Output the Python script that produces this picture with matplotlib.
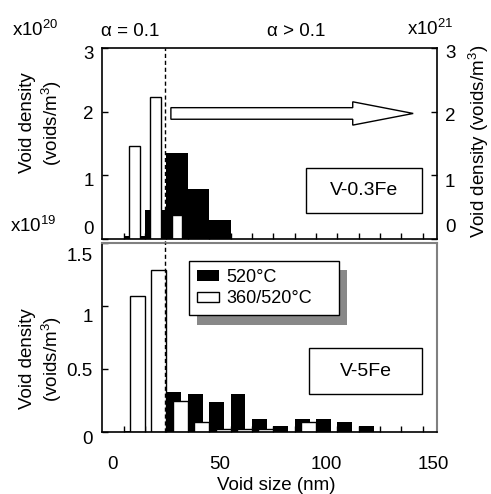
import matplotlib
matplotlib.use('Agg')
import numpy as np
import matplotlib.pyplot as plt
import matplotlib.transforms as mtransforms
from matplotlib.patches import FancyArrow, Rectangle

plt.rcParams['font.family'] = ['Liberation Sans', 'DejaVu Sans']
plt.rcParams['mathtext.fontset'] = 'custom'
plt.rcParams['mathtext.rm'] = 'Liberation Sans'
plt.rcParams['mathtext.it'] = 'Liberation Sans:italic'
plt.rcParams['font.size'] = 13.5

# void size bins (nm) - centre of each 10 nm bin
top_bins = [10, 20, 30, 40, 50]
top_520 = [0.04, 0.46, 1.36, 0.78, 0.30]
top_bins_360 = [10, 20, 30]
top_360 = [1.46, 2.23, 0.38]

bot_bins = [10, 20, 30, 40, 50, 60, 70, 80, 90, 100, 110, 120]
bot_520 = [0.01, 0.0, 0.32, 0.30, 0.24, 0.30, 0.105, 0.05, 0.105, 0.105, 0.085, 0.05]
bot_360 = [1.08, 1.29, 0.25, 0.08, 0.03, 0.03, 0.03, 0.0, 0.085, 0.0, 0.0, 0.0]

alpha_limit = 24.2          # dashed separator (nm)
top_yticks = [0, 1, 2, 3]
bot_yticks = [0, 0.5, 1, 1.5]
x_ticks = [0, 50, 100, 150]

W, H = 491, 494
fig = plt.figure(figsize=(W / 100, H / 100), dpi=100)

def fx(px):
    return px / W

def fy(py):
    return 1 - py / H

ax1 = fig.add_axes([fx(102.3), fy(239), fx(436.7) - fx(102.3), fy(48.3) - fy(239)])
ax2 = fig.add_axes([fx(102.3), fy(432.3), fx(436.7) - fx(102.3), fy(243.3) - fy(432.3)])

# top panel (V-0.3Fe)
ax1.bar(top_bins, top_520, width=10, color='black', edgecolor='none', zorder=1)
ax1.bar(top_bins_360, top_360, width=5, color='white', edgecolor='black', linewidth=1, zorder=1.5)

# bottom panel (V-5Fe)
bb = np.array(bot_bins)
ax2.bar(bb - 1.5, bot_520, width=7, color='black', edgecolor='none', zorder=1, label='520°C')
ax2.bar(bb + 1.5, bot_360, width=7, color='white', edgecolor='black', linewidth=1, zorder=1.5,
        label='360/520°C')

for ax in (ax1, ax2):
    ax.set_xlim(-5, 151.5)
    ax.set_xticks(x_ticks)
    ax.set_xticks(np.arange(5, 150, 10), minor=True)
    ax.tick_params(axis='x', which='major', length=0, pad=17, labelsize=13.5)
    ax.tick_params(axis='x', which='minor', direction='in', length=4, width=1)
    ax.tick_params(axis='y', which='major', direction='in', length=4, width=1, pad=7,
                   labelsize=13.5)
    ax.set_axisbelow(True)
    ax.axvline(alpha_limit, color='black', lw=1, ls=(0, (3, 2)), zorder=3,
               ymin=-0.03 if ax is ax1 else 0, clip_on=False)
    for s in ax.spines.values():
        s.set_linewidth(1.2)

ax1.set_ylim(0, 3)
ax1.set_yticks(top_yticks)
ax1.set_yticklabels([str(v) for v in top_yticks])
ax1.tick_params(axis='x', labelbottom=False)
ax1.tick_params(axis='y', right=True, labelright=True)
ax1.tick_params(axis='y', which='major', pad=6)

ax2.set_ylim(0, 1.5)
ax2.set_yticks(bot_yticks)
ax2.set_yticklabels(['0', '0.5', '1', '1.5'])
ax2.set_xticklabels([str(v) for v in x_ticks])
for side in ('top', 'right'):
    ax2.spines[side].set_color('#808080')
    ax2.spines[side].set_linewidth(1.5)

# the scanned labels sit a little off their ticks
def nudge(ax, offsets, right=False):
    for t, d in zip(ax.yaxis.get_major_ticks(), offsets):
        off = mtransforms.ScaledTranslation(0, -d / 100, fig.dpi_scale_trans)
        lab = t.label2 if right else t.label1
        lab.set_transform(lab.get_transform() + off)

nudge(ax1, [-12, 4, 1, 4])
nudge(ax1, [-14, 5, 3, 3], right=True)
nudge(ax2, [5, 0, 9, 11])

# arrow pointing at right axis
ax1.add_patch(FancyArrow(27.1, 1.975, 113.4, 0, width=0.182, head_width=0.367,
                         head_length=28.3, length_includes_head=True,
                         facecolor='white', edgecolor='black', lw=1, zorder=3))

# sample boxes
def sample_box(ax, x0, x1, y0, y1, label):
    ax.add_patch(Rectangle((x0, y0), x1 - x0, y1 - y0, transform=ax.transAxes,
                           facecolor='white', edgecolor='black', lw=1, zorder=4))
    ax.text((x0 + x1) / 2, (y0 + y1) / 2, label, transform=ax.transAxes,
            ha='center', va='center', fontsize=14, zorder=5)

sample_box(ax1, 0.608, 0.957, 0.135, 0.371, 'V-0.3Fe')
sample_box(ax2, 0.618, 0.957, 0.203, 0.444, 'V-5Fe')

# legend with offset gray shadow
leg = ax2.legend(loc='upper left', bbox_to_anchor=(0.259, 0.5, 0.449, 0.408), mode='expand',
                 borderaxespad=0, fancybox=False, edgecolor='black', framealpha=1,
                 fontsize=13, handlelength=1.2, handleheight=0.5, handletextpad=0.4,
                 labelspacing=0.25, borderpad=0.45)
leg.get_frame().set_linewidth(1)
fig.canvas.draw()
bb_leg = leg.get_frame().get_window_extent().transformed(ax2.transAxes.inverted())
dx = 7.7 / 334.4
dy = 9.4 / 189
ax2.add_patch(Rectangle((bb_leg.x0 + dx, bb_leg.y0 - dy), bb_leg.width, bb_leg.height,
                        transform=ax2.transAxes, facecolor='#888888', edgecolor='none',
                        zorder=4.5, clip_on=False))

# axis titles and scale factors
fig.text(fx(41.5), fy(123), 'Void density\n(voids/m$^3$)', rotation=90,
         ha='center', va='center', multialignment='center', fontsize=13.5)
fig.text(fx(41.5), fy(359), 'Void density\n(voids/m$^3$)', rotation=90,
         ha='center', va='center', multialignment='center', fontsize=13.5)
fig.text(fx(478.5), fy(141), 'Void density (voids/m$^3$)', rotation=90,
         ha='center', va='center', fontsize=13.5)
fig.text(fx(276), fy(485), 'Void size (nm)', ha='center', va='center', fontsize=13.5)

fig.text(fx(12), fy(36), 'x10$^{20}$', ha='left', va='baseline', fontsize=13.5)
fig.text(fx(101), fy(36), 'α = 0.1', ha='left', va='baseline', fontsize=13.5)
fig.text(fx(267), fy(36), 'α > 0.1', ha='left', va='baseline', fontsize=13.5)
fig.text(fx(407), fy(35), 'x10$^{21}$', ha='left', va='baseline', fontsize=13.5)
fig.text(fx(10), fy(232), 'x10$^{19}$', ha='left', va='baseline', fontsize=13.5)

fig.savefig('out.png', dpi=100)
